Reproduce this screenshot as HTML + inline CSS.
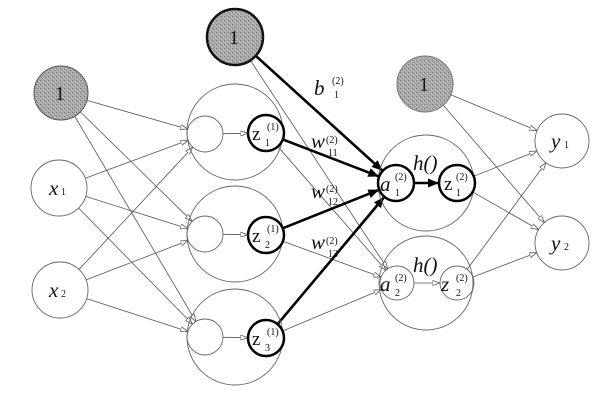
<!DOCTYPE html>
<html><head><meta charset="utf-8">
<style>
html,body{margin:0;padding:0;background:#fff;}
svg{display:block;}
text{font-family:"Liberation Serif",serif;fill:#111;}
</style></head>
<body>
<svg id="s" width="603" height="406" viewBox="0 0 603 406" xmlns="http://www.w3.org/2000/svg">
<defs>
<marker id="ta" markerWidth="8" markerHeight="6" refX="7.5" refY="3" orient="auto" markerUnits="userSpaceOnUse">
<path d="M0,0.5 L7.5,3 L0,5.5 Z" fill="#fff" stroke="#555" stroke-width="0.8"/></marker>
<marker id="ka" markerWidth="12" markerHeight="10" refX="11" refY="5" orient="auto" markerUnits="userSpaceOnUse">
<path d="M0,0.5 L11,5 L0,9.5 Z" fill="#000"/></marker>
<pattern id="g" width="4" height="4" patternUnits="userSpaceOnUse">
<rect width="4" height="4" fill="#a9a9a9"/><rect x="0" y="0" width="1" height="1" fill="#777"/><rect x="2" y="2" width="1" height="1" fill="#888"/><rect x="3" y="1" width="1" height="1" fill="#c6c6c6"/><rect x="1" y="3" width="1" height="1" fill="#c0c0c0"/>
</pattern>
</defs>
<g id="edges"></g>
<g fill="none" stroke="#666" stroke-width="0.9">
<circle cx="235" cy="132" r="48"/><circle cx="235" cy="234" r="48"/><circle cx="235" cy="337" r="48"/>
<circle cx="426" cy="183" r="48"/><circle cx="426" cy="283" r="47"/>
<circle cx="205" cy="134" r="18"/><circle cx="205" cy="234" r="18"/><circle cx="205" cy="337" r="18"/>
<circle cx="397" cy="283" r="17"/><circle cx="457" cy="283" r="17"/>
<circle cx="59" cy="188" r="28"/><circle cx="60" cy="290" r="28"/>
<circle cx="562" cy="141" r="27"/><circle cx="562" cy="243" r="27"/>
</g>
<circle cx="61" cy="93" r="27" fill="url(#g)" stroke="#555" stroke-width="1"/>
<circle cx="425" cy="84" r="28" fill="url(#g)" stroke="#777" stroke-width="1"/>
<circle cx="235" cy="37" r="28" fill="url(#g)" stroke="#111" stroke-width="2.5"/>
<g fill="#fff" stroke="#000" stroke-width="2.5">
<circle cx="266" cy="133" r="18"/><circle cx="266" cy="235" r="18"/><circle cx="266" cy="338" r="18"/>
<circle cx="396" cy="183" r="18"/><circle cx="457" cy="183" r="18"/>
</g>
<g font-size="20">
<text x="55" y="100">1</text><text x="229" y="44">1</text><text x="419" y="91">1</text>
</g>
<g font-style="italic" font-size="21">
<text x="49" y="195">x</text><text x="49" y="297">x</text>
<text x="551" y="148">y</text><text x="551" y="250">y</text>
<text x="314" y="95">b</text>
<text x="311" y="148">w</text><text x="311" y="198">w</text><text x="311" y="249">w</text>
<text x="413" y="170">h()</text><text x="413" y="272">h()</text>
<text x="380" y="191">a</text><text x="380" y="291">a</text>
<text x="441" y="291">z</text>
</g>
<g font-size="19"><text x="252" y="140">z</text><text x="252" y="242">z</text><text x="252" y="345">z</text><text x="444" y="190">z</text></g>
<g font-size="10">
<text x="61" y="195">1</text><text x="61" y="297">2</text><text x="564" y="148">1</text><text x="564" y="250">2</text>
<text x="267" y="130">(1)</text><text x="265" y="146">1</text>
<text x="267" y="232">(1)</text><text x="265" y="248">2</text>
<text x="267" y="335">(1)</text><text x="265" y="351">3</text>
<text x="332" y="84">(2)</text><text x="334" y="98">1</text>
<text x="326" y="143">(2)</text><text x="328" y="156">11</text>
<text x="326" y="192">(2)</text><text x="328" y="205">12</text>
<text x="326" y="244">(2)</text><text x="328" y="257">13</text>
<text x="395" y="180">(2)</text><text x="395" y="196">1</text>
<text x="456" y="180">(2)</text><text x="456" y="196">1</text>
<text x="395" y="281">(2)</text><text x="395" y="296">2</text>
<text x="456" y="281">(2)</text><text x="456" y="296">2</text>
</g>
</svg>
<script>
var E=document.getElementById('edges'),NS='http://www.w3.org/2000/svg';
function ln(x1,y1,r1,x2,y2,r2,thick){
 var dx=x2-x1,dy=y2-y1,d=Math.hypot(dx,dy),ux=dx/d,uy=dy/d;
 var l=document.createElementNS(NS,'line');
 l.setAttribute('x1',x1+ux*r1);l.setAttribute('y1',y1+uy*r1);
 l.setAttribute('x2',x2-ux*r2);l.setAttribute('y2',y2-uy*r2);
 l.setAttribute('stroke',thick?'#000':'#555');l.setAttribute('stroke-width',thick?2.6:0.8);
 l.setAttribute('marker-end',thick?'url(#ka)':'url(#ta)');E.appendChild(l);}
var L0=[[61,93,27],[59,188,28],[60,290,28]],H=[[205,134],[205,234],[205,337]];
L0.forEach(function(s){H.forEach(function(t){ln(s[0],s[1],s[2],t[0],t[1],18);});});
H.forEach(function(t,i){ln(t[0],t[1],18,266,[133,235,338][i],18);});
var Z=[[266,133],[266,235],[266,338]];
ln(235,37,28,397,283,17);
Z.forEach(function(z){ln(z[0],z[1],18,397,283,17);});
ln(235,37,28,396,183,18,1);
Z.forEach(function(z){ln(z[0],z[1],18,396,183,18,1);});
ln(414,183,0,439,183,0,1);
ln(414,283,0,440,283,0);
[[425,84,28],[457,183,18],[457,283,17]].forEach(function(s){ln(s[0],s[1],s[2],562,141,27);ln(s[0],s[1],s[2],562,243,27);});
</script>
</body></html>
